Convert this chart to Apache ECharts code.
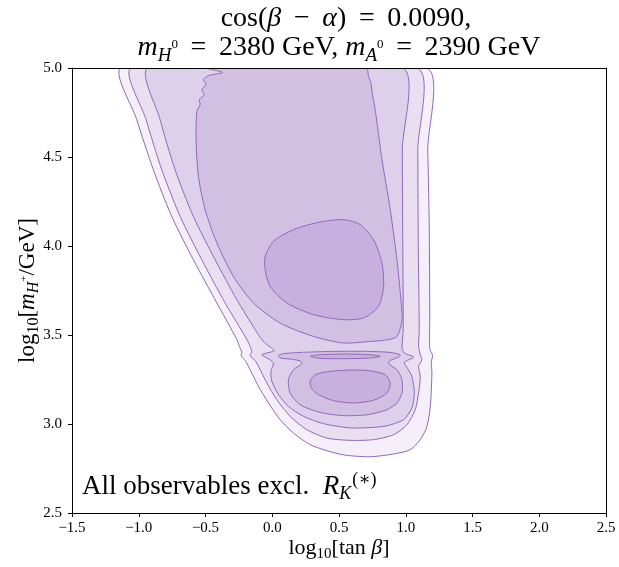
<!DOCTYPE html>
<html>
<head>
<meta charset="utf-8">
<script src="https://cdn.jsdelivr.net/npm/echarts@6/dist/echarts.min.js"></script>
<style>
html, body { margin: 0; padding: 0; background: #fff; }
#chart { width: 619px; height: 567px; }
</style>
</head>
<body>
<div id="chart"></div>
<script>
// axis ticks
const xTicks = [-1.5, -1.0, -0.5, 0.0, 0.5, 1.0, 1.5, 2.0, 2.5]
const yTicks = [2.5, 3.0, 3.5, 4.0, 4.5, 5.0]

// contour outlines: [log10 tan(beta), log10 mH+]
const level1 = [
  [-1.127, 5.0], [-1.015, 4.710], [-0.891, 4.429], [-0.753, 4.166], [-0.591, 3.923],
  [-0.415, 3.680], [-0.265, 3.474], [-0.246, 3.436], [-0.228, 3.402], [-0.233, 3.384],
  [-0.203, 3.357], [-0.166, 3.305], [-0.103, 3.211], [-0.028, 3.118], [0.059, 3.024],
  [0.159, 2.949], [0.284, 2.884], [0.409, 2.850], [0.546, 2.825], [0.734, 2.816],
  [0.921, 2.833], [1.034, 2.856], [1.109, 2.912], [1.159, 2.987], [1.184, 3.099],
  [1.196, 3.287], [1.191, 3.350], [1.202, 3.384], [1.180, 3.423], [1.180, 3.586],
  [1.176, 4.110], [1.165, 4.541], [1.154, 5.0]
]
const level2 = [
  [-1.052, 5.0], [-0.945, 4.710], [-0.828, 4.429], [-0.690, 4.166], [-0.528, 3.923],
  [-0.353, 3.680], [-0.190, 3.474], [-0.153, 3.408], [-0.166, 3.384], [-0.128, 3.356],
  [-0.103, 3.324], [-0.040, 3.230], [0.034, 3.137], [0.134, 3.043], [0.259, 2.968],
  [0.409, 2.921], [0.584, 2.908], [0.759, 2.912], [0.909, 2.940], [1.009, 2.996],
  [1.071, 3.080], [1.096, 3.174], [1.109, 3.267], [1.096, 3.324], [1.121, 3.361],
  [1.109, 3.389], [1.096, 3.436], [1.101, 3.530], [1.094, 3.979], [1.090, 4.541],
  [1.084, 5.0]
]
const level3 = [
  [-0.928, 5.0], [-0.840, 4.710], [-0.728, 4.429], [-0.591, 4.166], [-0.428, 3.923],
  [-0.265, 3.698], [-0.128, 3.530], [-0.078, 3.474], [-0.040, 3.446], [0.014, 3.412],
  [-0.078, 3.389], [-0.016, 3.361], [0.009, 3.339], [-0.010, 3.296], [-0.003, 3.239],
  [0.047, 3.165], [0.121, 3.099], [0.234, 3.043], [0.384, 3.002], [0.584, 2.978],
  [0.759, 2.981], [0.859, 2.990], [0.984, 3.024], [1.046, 3.090], [1.064, 3.174],
  [1.046, 3.267], [1.004, 3.324], [0.989, 3.346], [1.058, 3.376], [0.989, 3.399],
  [0.972, 3.427], [0.981, 3.530], [0.978, 3.979], [0.974, 4.541], [0.974, 5.0]
]
const level4Upper = [
  [-0.490, 5.0], [-0.373, 4.975], [-0.478, 4.957], [-0.516, 4.934], [-0.496, 4.906],
  [-0.528, 4.878], [-0.510, 4.850], [-0.546, 4.822], [-0.540, 4.794], [-0.565, 4.756],
  [-0.570, 4.579], [-0.553, 4.391], [-0.503, 4.204], [-0.415, 4.017], [-0.291, 3.829],
  [-0.141, 3.680], [0.059, 3.567], [0.309, 3.492], [0.534, 3.455], [0.734, 3.464],
  [0.846, 3.471], [0.934, 3.492], [0.972, 3.586], [0.959, 3.736], [0.934, 3.923],
  [0.884, 4.204], [0.822, 4.485], [0.771, 4.766], [0.747, 4.869], [0.739, 4.916],
  [0.721, 4.953], [0.704, 5.0]
]
const level4Lower = [
  [0.047, 3.384], [0.084, 3.395], [0.209, 3.402], [0.459, 3.408], [0.709, 3.408],
  [0.884, 3.402], [0.959, 3.389], [0.946, 3.376], [0.884, 3.357], [0.871, 3.339],
  [0.934, 3.305], [0.972, 3.249], [0.972, 3.174], [0.934, 3.118], [0.859, 3.080],
  [0.709, 3.052], [0.534, 3.047], [0.359, 3.065], [0.209, 3.108], [0.134, 3.174],
  [0.121, 3.249], [0.159, 3.305], [0.222, 3.339], [0.209, 3.354], [0.134, 3.365],
  [0.059, 3.371]
]
const level5Upper = [
  [-0.053, 3.942], [0.009, 4.026], [0.159, 4.092], [0.359, 4.135], [0.534, 4.148],
  [0.659, 4.120], [0.759, 4.035], [0.822, 3.904], [0.834, 3.773], [0.796, 3.661],
  [0.684, 3.596], [0.534, 3.586], [0.309, 3.614], [0.109, 3.680], [-0.016, 3.773],
  [-0.053, 3.867]
]
const level5Thin = [
  [0.284, 3.380], [0.359, 3.389], [0.546, 3.393], [0.734, 3.389], [0.809, 3.380],
  [0.734, 3.371], [0.546, 3.367], [0.359, 3.369]
]
const level5Lower = [
  [0.284, 3.239], [0.322, 3.277], [0.434, 3.296], [0.584, 3.303], [0.734, 3.299],
  [0.846, 3.277], [0.884, 3.230], [0.859, 3.174], [0.759, 3.133], [0.609, 3.118],
  [0.459, 3.131], [0.346, 3.165], [0.292, 3.202]
]

const fillColors = ['#f4eff8', '#e9dff1', '#ddd0ea', '#d2c0e3', '#c7b0dd']
const lineColor = '#9467bd'
const serif = '"Liberation Serif", "DejaVu Serif", serif'

// outer to inner, so inner ones paint on top
const shapes = [
  { pts: level1, lv: 0 },
  { pts: level2, lv: 1 },
  { pts: level3, lv: 2 },
  { pts: level4Upper, lv: 3 },
  { pts: level4Lower, lv: 3 },
  { pts: level5Upper, lv: 4 },
  { pts: level5Thin, lv: 4 },
  { pts: level5Lower, lv: 4 }
]

const mkRich = (size) => ({
  n: { fontFamily: serif, fontSize: size, lineHeight: size + 6, color: '#000' },
  i: { fontFamily: serif, fontSize: size, fontStyle: 'italic', lineHeight: size + 6, color: '#000' },
  s: { fontFamily: serif, fontSize: Math.round(size * 0.68), fontStyle: 'italic', lineHeight: Math.round(size * 0.68), verticalAlign: 'bottom', color: '#000' },
  su: { fontFamily: serif, fontSize: Math.round(size * 0.68), lineHeight: Math.round(size * 0.68), verticalAlign: 'bottom', color: '#000' },
  ss: { fontFamily: serif, fontSize: Math.round(size * 0.48), lineHeight: Math.round(size * 0.48), verticalAlign: 'bottom', padding: [0, 0, Math.round(size * 0.5), 0], color: '#000' },
  sk: { fontFamily: serif, fontSize: Math.round(size * 0.66), lineHeight: Math.round(size * 0.66), verticalAlign: 'bottom', padding: [0, 0, Math.round(size * 0.5), 1], color: '#000' }
})

const chart = echarts.init(document.getElementById('chart'))

const fmt = v => v.toFixed(1).replace('-', '\u2212')

chart.setOption({
  animation: false,
  backgroundColor: '#fff',
  grid: { left: 72, right: 13, top: 68, bottom: 54, outerBoundsMode: 'none', containLabel: false },
  xAxis: [
    {
      type: 'value', min: xTicks[0], max: xTicks[xTicks.length - 1], interval: 0.5,
      position: 'bottom', z: 10,
      axisLine: { show: true, onZero: false, lineStyle: { color: '#000', width: 1 } },
      axisTick: { show: true, inside: false, length: 4, lineStyle: { color: '#000' } },
      axisLabel: { color: '#000', fontFamily: serif, fontSize: 15, margin: 8, formatter: fmt },
      splitLine: { show: false },
      name: '{n|log}{su|10}{n|[tan }{i|\u03b2}{n|]}',
      nameLocation: 'middle', nameGap: 21, nameMoveOverlap: false,
      nameTextStyle: { rich: mkRich(22) }
    },
    {
      type: 'value', min: xTicks[0], max: xTicks[xTicks.length - 1],
      position: 'top', z: 10,
      axisLine: { show: true, onZero: false, lineStyle: { color: '#000', width: 1 } },
      axisTick: { show: false }, axisLabel: { show: false }, splitLine: { show: false }
    }
  ],
  yAxis: [
    {
      type: 'value', min: yTicks[0], max: yTicks[yTicks.length - 1], interval: 0.5,
      position: 'left', z: 10,
      axisLine: { show: true, onZero: false, lineStyle: { color: '#000', width: 1 } },
      axisTick: { show: true, inside: false, length: 4, lineStyle: { color: '#000' } },
      axisLabel: { color: '#000', fontFamily: serif, fontSize: 15, margin: 10, formatter: fmt },
      splitLine: { show: false },
      name: '{n|log}{su|10}{n|[}{i|m}{s|H}{ss|+}{n|/GeV]}',
      nameLocation: 'middle', nameGap: 30, nameMoveOverlap: false,
      nameTextStyle: { rich: mkRich(23) }
    },
    {
      type: 'value', min: yTicks[0], max: yTicks[yTicks.length - 1],
      position: 'right', z: 10,
      axisLine: { show: true, onZero: false, lineStyle: { color: '#000', width: 1 } },
      axisTick: { show: false }, axisLabel: { show: false }, splitLine: { show: false }
    }
  ],
  graphic: [
    {
      type: 'text', x: 346, y: 19,
      style: {
        text: '{n|cos(}{i|\u03b2}{n| \u2009\u2212\u2009 }{i|\u03b1}{n|) \u2009=\u2009 0.0090,}',
        rich: mkRich(28), textAlign: 'center', textVerticalAlign: 'middle'
      }
    },
    {
      type: 'text', x: 339, y: 48,
      style: {
        text: '{i|m}{s|H}{ss|0}{n| \u2009=\u2009 2380 GeV, }{i|m}{s|A}{ss|0}{n| \u2009=\u2009 2390 GeV}',
        rich: mkRich(28), textAlign: 'center', textVerticalAlign: 'middle'
      }
    },
    {
      type: 'text', x: 82, y: 487, z: 20,
      style: {
        text: '{n|All observables excl.  }{i|R}{s|K}{sk|(\u2217)}',
        rich: mkRich(27), textAlign: 'left', textVerticalAlign: 'middle'
      }
    }
  ],
  series: [
    {
      type: 'custom',
      coordinateSystem: 'cartesian2d',
      xAxisIndex: 0, yAxisIndex: 0,
      clip: true,
      data: shapes.map((s, i) => [i]),
      renderItem: (params, api) => {
        const s = shapes[params.dataIndex]
        return {
          type: 'polygon',
          shape: { points: s.pts.map(p => api.coord(p)), smooth: 0.25 },
          style: { fill: fillColors[s.lv], stroke: lineColor, lineWidth: 1 }
        }
      }
    }
  ]
})
</script>
</body>
</html>
